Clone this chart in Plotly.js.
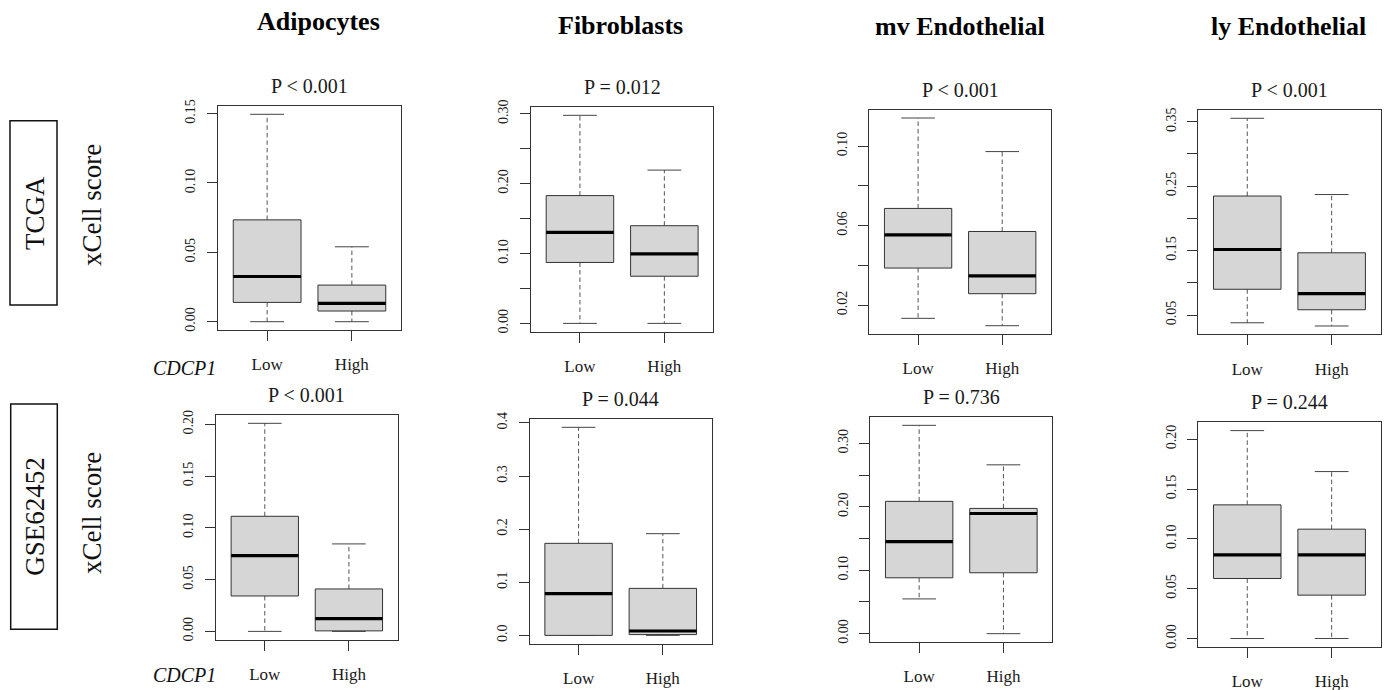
<!DOCTYPE html>
<html><head><meta charset="utf-8">
<script src="https://cdn.plot.ly/plotly-3.0.1.min.js"></script>
<style>html,body{margin:0;padding:0;background:#fff}</style>
</head><body><div id="chart" style="width:1385px;height:690px"></div>
<script>
// ---------------- data ----------------
const cellTypes = ["Adipocytes", "Fibroblasts", "mv Endothelial", "ly Endothelial"];
const cohorts = ["TCGA", "GSE62452"];
const groups = ["Low", "High"];
const geneName = "CDCP1";
const yTitle = "xCell score";
const pValues = ["P < 0.001", "P = 0.012", "P < 0.001", "P < 0.001",
                 "P < 0.001", "P = 0.044", "P = 0.736", "P = 0.244"];

// five-number summaries: [lower whisker, Q1, median, Q3, upper whisker]
const tcgaAdipocytesLow = [0.000, 0.0139, 0.0326, 0.0734, 0.1495];
const tcgaAdipocytesHigh = [0.000, 0.0077, 0.0132, 0.0264, 0.0540];
const tcgaFibroblastsLow = [0.000, 0.0872, 0.1303, 0.1829, 0.2978];
const tcgaFibroblastsHigh = [0.000, 0.0675, 0.0996, 0.1398, 0.2194];
const tcgaMvEndoLow = [0.0133, 0.0386, 0.0553, 0.0686, 0.1141];
const tcgaMvEndoHigh = [0.0096, 0.0257, 0.0347, 0.0570, 0.0972];
const tcgaLyEndoLow = [0.0380, 0.0900, 0.1517, 0.2347, 0.3553];
const tcgaLyEndoHigh = [0.0330, 0.0582, 0.0832, 0.1466, 0.2370];
const gseAdipocytesLow = [0.000, 0.0342, 0.0732, 0.1112, 0.2010];
const gseAdipocytesHigh = [0.000, 0.0005, 0.0123, 0.0410, 0.0845];
const gseFibroblastsLow = [0.000, 0.000, 0.0785, 0.1733, 0.3917];
const gseFibroblastsHigh = [0.000, 0.0015, 0.0082, 0.0885, 0.1915];
const gseMvEndoLow = [0.0548, 0.0881, 0.1452, 0.2086, 0.3285];
const gseMvEndoHigh = [0.000, 0.0960, 0.1895, 0.1975, 0.2662];
const gseLyEndoLow = [0.000, 0.0602, 0.0840, 0.1341, 0.2086];
const gseLyEndoHigh = [0.000, 0.0435, 0.0840, 0.1097, 0.1675];

// y-axis ticks per panel
const yTickVals1 = [0, 0.05, 0.10, 0.15];
const yTickText1 = ["0.00", "0.05", "0.10", "0.15"];
const yTickVals2 = [0, 0.05, 0.10, 0.15, 0.20, 0.25, 0.30];
const yTickText2 = ["0.00", "", "0.10", "", "0.20", "", "0.30"];
const yTickVals3 = [0.02, 0.04, 0.06, 0.08, 0.10];
const yTickText3 = ["0.02", "", "0.06", "", "0.10"];
const yTickVals4 = [0.05, 0.10, 0.15, 0.20, 0.25, 0.30, 0.35];
const yTickText4 = ["0.05", "", "0.15", "", "0.25", "", "0.35"];
const yTickVals5 = [0, 0.05, 0.10, 0.15, 0.20];
const yTickText5 = ["0.00", "0.05", "0.10", "0.15", "0.20"];
const yTickVals6 = [0, 0.1, 0.2, 0.3, 0.4];
const yTickText6 = ["0.0", "0.1", "0.2", "0.3", "0.4"];
const yTickVals7 = [0, 0.05, 0.10, 0.15, 0.20, 0.25, 0.30];
const yTickText7 = ["0.00", "", "0.10", "", "0.20", "", "0.30"];
const yTickVals8 = [0, 0.05, 0.10, 0.15, 0.20];
const yTickText8 = ["0.00", "0.05", "0.10", "0.15", "0.20"];

// ---------------- assembly ----------------
const panelStats = [
  [tcgaAdipocytesLow, tcgaAdipocytesHigh], [tcgaFibroblastsLow, tcgaFibroblastsHigh],
  [tcgaMvEndoLow, tcgaMvEndoHigh], [tcgaLyEndoLow, tcgaLyEndoHigh],
  [gseAdipocytesLow, gseAdipocytesHigh], [gseFibroblastsLow, gseFibroblastsHigh],
  [gseMvEndoLow, gseMvEndoHigh], [gseLyEndoLow, gseLyEndoHigh]
];
const panelTickVals = [yTickVals1, yTickVals2, yTickVals3, yTickVals4, yTickVals5, yTickVals6, yTickVals7, yTickVals8];
const panelTickText = [yTickText1, yTickText2, yTickText3, yTickText4, yTickText5, yTickText6, yTickText7, yTickText8];

const W = 1385, H = 690;
const FONT = "Liberation Serif, Times New Roman, serif";
const INK = "#1a1a1a";
const EDGE = "#333";
// plot frames in pixels: [left, right, top, bottom]
const frames = [
  [218, 401, 106, 330], [531, 713.3, 107, 331.7], [869.3, 1051, 109.7, 334], [1198.3, 1380.6, 110, 334.3],
  [216, 397.7, 415, 639.7], [529.7, 711.7, 419, 643.7], [870.3, 1052.3, 417, 642], [1198.3, 1380.6, 422.3, 646.8]
];
const fx = p => p / W;
const fy = p => 1 - p / H;

const traces = [];
const layout = {
  width: W, height: H,
  margin: {l: 0, r: 0, t: 0, b: 0},
  paper_bgcolor: "#fff", plot_bgcolor: "#fff",
  showlegend: false,
  font: {family: FONT, color: INK},
  annotations: [], shapes: []
};

const halfBox = 0.4, halfCap = 0.2;

panelStats.forEach((pair, i) => {
  const n = i + 1;
  const xa = n === 1 ? "x" : "x" + n;
  const ya = n === 1 ? "y" : "y" + n;
  let lo = Infinity, hi = -Infinity;
  pair.forEach((s, g) => {
    const c = g + 1;
    lo = Math.min(lo, s[0]); hi = Math.max(hi, s[4]);
    // dashed whiskers (drawn from box edge outwards)
    traces.push({type: "scatter", mode: "lines", xaxis: xa, yaxis: ya, hoverinfo: "skip",
      x: [c, c, null, c, c], y: [s[3], s[4], null, s[1], s[0]],
      line: {color: "#555", width: 1, dash: "4.5px,3px"}});
    // caps
    traces.push({type: "scatter", mode: "lines", xaxis: xa, yaxis: ya, hoverinfo: "skip",
      x: [c - halfCap, c + halfCap, null, c - halfCap, c + halfCap], y: [s[4], s[4], null, s[0], s[0]],
      line: {color: "#444", width: 1}});
    // box
    traces.push({type: "scatter", mode: "lines", xaxis: xa, yaxis: ya, hoverinfo: "skip",
      x: [c - halfBox, c + halfBox, c + halfBox, c - halfBox, c - halfBox],
      y: [s[1], s[1], s[3], s[3], s[1]],
      fill: "toself", fillcolor: "#d6d6d6", line: {color: EDGE, width: 1}});
    // median
    traces.push({type: "scatter", mode: "lines", xaxis: xa, yaxis: ya, hoverinfo: "skip",
      x: [c - halfBox, c + halfBox], y: [s[2], s[2]],
      line: {color: "#000", width: 3.2}});
  });
  const pad = 0.04 * (hi - lo);
  const fr = frames[i];
  layout["xaxis" + (n === 1 ? "" : n)] = {
    domain: [fx(fr[0]), fx(fr[1])], anchor: ya,
    range: [0.5 - 0.08, groups.length + 0.5 + 0.08],
    tickmode: "array", tickvals: [1, 2], ticktext: groups,
    ticks: "outside", ticklen: 10, tickcolor: EDGE, tickwidth: 1,
    ticklabelstandoff: 9,
    tickfont: {family: FONT, size: 17, color: INK},
    showline: true, mirror: true, linecolor: EDGE, linewidth: 1,
    showgrid: false, zeroline: false, fixedrange: true
  };
  layout["yaxis" + (n === 1 ? "" : n)] = {
    domain: [fy(fr[3]), fy(fr[2])], anchor: xa,
    range: [lo - pad, hi + pad],
    tickmode: "array", tickvals: panelTickVals[i], ticktext: panelTickText[i],
    tickangle: -90,
    ticks: "outside", ticklen: 10, tickcolor: EDGE, tickwidth: 1,
    ticklabelstandoff: 6,
    tickfont: {family: FONT, size: 14, color: INK},
    showline: true, mirror: true, linecolor: EDGE, linewidth: 1,
    showgrid: false, zeroline: false, fixedrange: true
  };
  // P value label
  layout.annotations.push({xref: "paper", yref: "paper", showarrow: false,
    x: fx((fr[0] + fr[1]) / 2), y: fy(fr[2] - 20), xanchor: "center", yanchor: "middle",
    text: pValues[i], font: {family: FONT, size: 20, color: INK}});
});

// column titles
const titleX = [318, 620, 960, 1288];
const titleY = [22, 25, 27, 27];
cellTypes.forEach((t, k) => {
  layout.annotations.push({xref: "paper", yref: "paper", showarrow: false,
    x: fx(titleX[k]), y: fy(titleY[k]), xanchor: "center", yanchor: "middle",
    text: "<b>" + t + "</b>", font: {family: FONT, size: 26, color: "#000"}});
});

// row labels
const rowBox = [[10, 57, 120.7, 305], [10.7, 57.3, 404, 629.3]];
const rowMid = [213, 516.7];
const scoreMid = [205, 513];
const geneY = [368, 675];
cohorts.forEach((c, r) => {
  const b = rowBox[r];
  layout.shapes.push({type: "rect", xref: "paper", yref: "paper",
    x0: fx(b[0]), x1: fx(b[1]), y0: fy(b[3]), y1: fy(b[2]),
    line: {color: "#111", width: 1.5}, fillcolor: "rgba(0,0,0,0)"});
  layout.annotations.push({xref: "paper", yref: "paper", showarrow: false,
    x: fx(35), y: fy(rowMid[r]), xanchor: "center", yanchor: "middle", textangle: -90,
    text: c, font: {family: FONT, size: 27, color: "#111"}});
  layout.annotations.push({xref: "paper", yref: "paper", showarrow: false,
    x: fx(92), y: fy(scoreMid[r]), xanchor: "center", yanchor: "middle", textangle: -90,
    text: yTitle, font: {family: FONT, size: 27, color: "#111"}});
  layout.annotations.push({xref: "paper", yref: "paper", showarrow: false,
    x: fx(184), y: fy(geneY[r]), xanchor: "center", yanchor: "middle",
    text: "<i>" + geneName + "</i>", font: {family: FONT, size: 20, color: "#111"}});
});

Plotly.newPlot("chart", traces, layout, {staticPlot: true, displayModeBar: false});
</script>
</body></html>
